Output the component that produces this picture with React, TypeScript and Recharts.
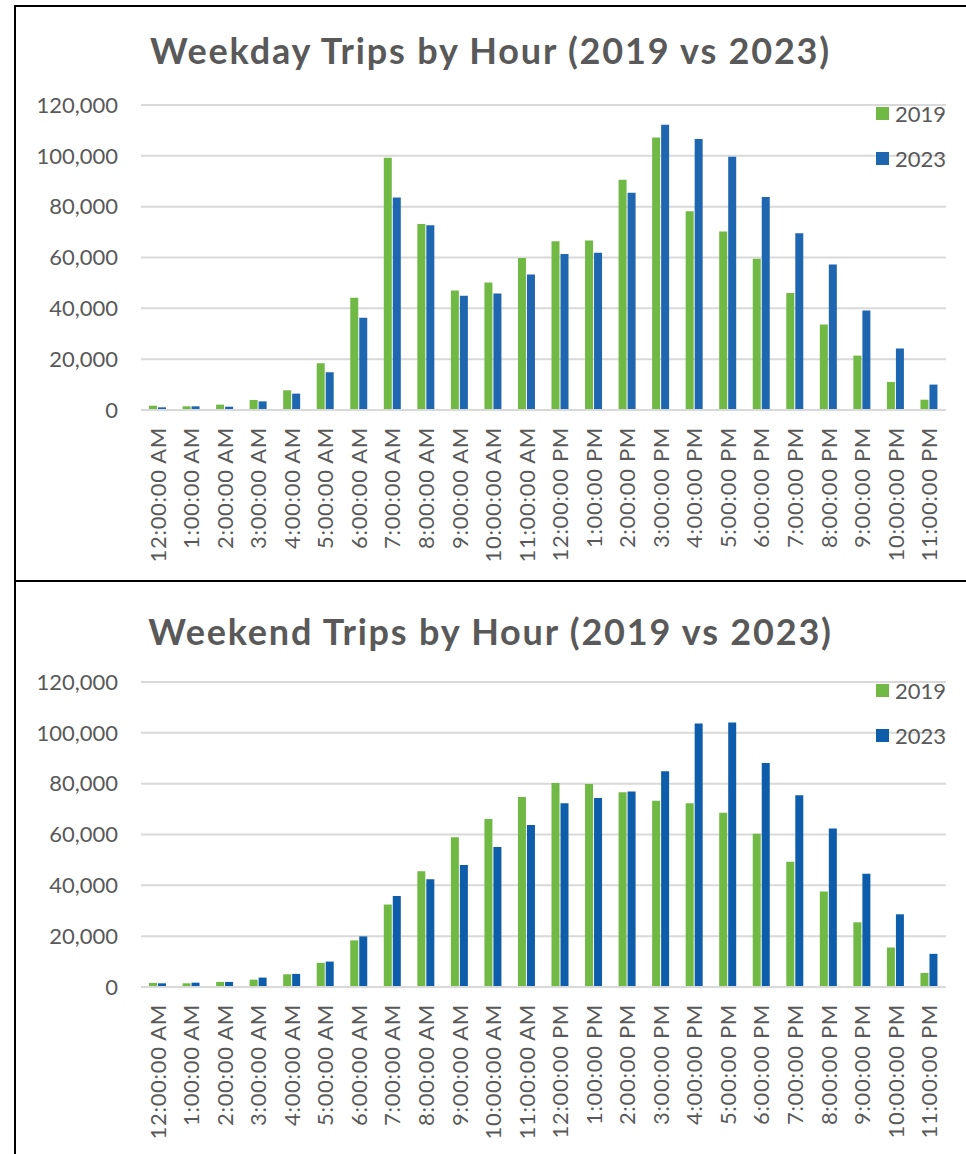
import React from 'react';
import { Bar, BarChart, CartesianGrid, Legend, XAxis, YAxis } from 'recharts';

// hourly trip counts
const hours = [
  '12:00:00 AM', '1:00:00 AM', '2:00:00 AM', '3:00:00 AM', '4:00:00 AM', '5:00:00 AM',
  '6:00:00 AM', '7:00:00 AM', '8:00:00 AM', '9:00:00 AM', '10:00:00 AM', '11:00:00 AM',
  '12:00:00 PM', '1:00:00 PM', '2:00:00 PM', '3:00:00 PM', '4:00:00 PM', '5:00:00 PM',
  '6:00:00 PM', '7:00:00 PM', '8:00:00 PM', '9:00:00 PM', '10:00:00 PM', '11:00:00 PM',
];

const weekday2019 = [
  1700, 1450, 2100, 3950, 7750, 18400, 44150, 99250, 73200, 47050, 50200, 59800,
  66400, 66650, 90550, 107250, 78200, 70200, 59550, 46000, 33650, 21400, 11050, 4050,
];
const weekday2023 = [
  1050, 1450, 1300, 3400, 6450, 14850, 36300, 83600, 72700, 44950, 45850, 53350,
  61400, 61900, 85450, 112250, 106600, 99600, 83850, 69550, 57200, 39150, 24200, 10000,
];

const weekend2019 = [
  1600, 1450, 2000, 2900, 5000, 9500, 18350, 32450, 45500, 58950, 66050, 74750,
  80300, 79900, 76600, 73300, 72250, 68550, 60250, 49300, 37600, 25450, 15550, 5550,
];
const weekend2023 = [
  1450, 1700, 2000, 3700, 5150, 10000, 19900, 35850, 42350, 48000, 55100, 63700,
  72250, 74350, 76900, 84900, 103650, 104050, 88100, 75400, 62350, 44550, 28600, 13050,
];

const yTicks = [0, 20000, 40000, 60000, 80000, 100000, 120000];

const green = '#71B945';
const textGrey = '#595959';
const gridGrey = '#D9D9D9';
const font = 'Lato, "Open Sans", sans-serif';

const toRows = (a: number[], b: number[]) =>
  hours.map((hour, i) => ({ hour, y2019: a[i], y2023: b[i] }));

const HourTick = (props: any) => {
  const { x, y, payload } = props;
  return (
    <text
      x={x}
      y={y}
      dy="0.36em"
      textAnchor="end"
      transform={`rotate(-90, ${x}, ${y})`}
      fill={textGrey}
      fontSize={22}
      letterSpacing={0.7}
      fontFamily={font}
    >
      {payload.value}
    </text>
  );
};

const LegendBox = (props: any) => (
  <div style={{ fontFamily: font }}>
    {props.payload.map((item: any) => (
      <div key={item.value} style={{ display: 'flex', alignItems: 'center', height: 45 }}>
        <span style={{ width: 13, height: 13, background: item.color, marginRight: 6 }} />
        <span style={{ fontSize: 22, color: textGrey }}>{item.value}</span>
      </div>
    ))}
  </div>
);

interface PanelProps {
  title: string;
  data: any[];
  blue: string;
  top: number;
  height: number;
  plotTop: number;
  legendTop: number;
}

const Panel: React.FC<PanelProps> = ({ title, data, blue, top, height, plotTop, legendTop }) => (
  <div style={{ position: 'absolute', left: 0, top, width: 966, height }}>
    <div style={styles.title}>{title}</div>
    <BarChart
      width={966}
      height={height}
      data={data}
      margin={{ top: plotTop, right: 20, left: 0, bottom: 0 }}
      barSize={8}
      barGap={1}
      style={{ position: 'absolute', left: 0, top: 0 }}
    >
      <CartesianGrid vertical={false} stroke={gridGrey} strokeWidth={2} />
      <XAxis
        dataKey="hour"
        interval={0}
        height={height - plotTop - 305}
        tick={<HourTick />}
        tickLine={false}
        tickMargin={11}
        axisLine={{ stroke: gridGrey, strokeWidth: 2 }}
      />
      <YAxis
        width={141}
        domain={[0, 120000]}
        ticks={yTicks}
        tickFormatter={(v: number) => v.toLocaleString('en-US')}
        tickLine={false}
        axisLine={false}
        tickMargin={17}
        tick={{ fill: textGrey, fontSize: 22, fontFamily: font }}
      />
      <Legend
        layout="vertical"
        align="center"
        verticalAlign="middle"
        content={<LegendBox />}
        wrapperStyle={{ left: 876, top: legendTop, width: 'auto' }}
      />
      <Bar dataKey="y2019" name="2019" fill={green} isAnimationActive={false} />
      <Bar dataKey="y2023" name="2023" fill={blue} isAnimationActive={false} />
    </BarChart>
  </div>
);

export default function App() {
  return (
    <div style={styles.page}>
      <Panel
        title="Weekday Trips by Hour (2019 vs 2023)"
        data={toRows(weekday2019, weekday2023)}
        blue="#1F66B0"
        top={0}
        height={580}
        plotTop={105}
        legendTop={91}
      />
      <Panel
        title="Weekend Trips by Hour (2019 vs 2023)"
        data={toRows(weekend2019, weekend2023)}
        blue="#0D5DAA"
        top={581}
        height={573}
        plotTop={101}
        legendTop={87}
      />
      <div style={{ ...styles.rule, left: 14, top: 5, width: 952, height: 2 }} />
      <div style={{ ...styles.rule, left: 14, top: 580, width: 952, height: 2 }} />
      <div style={{ ...styles.rule, left: 14, top: 5, width: 2, height: 1149 }} />
    </div>
  );
}

const styles: { [k: string]: React.CSSProperties } = {
  page: {
    position: 'absolute',
    left: 0,
    top: 0,
    width: 966,
    height: 1154,
    background: '#fff',
    overflow: 'hidden',
  },
  title: {
    position: 'absolute',
    left: 15,
    width: 951,
    top: 28,
    textAlign: 'center',
    fontFamily: font,
    fontWeight: 700,
    fontSize: 36,
    letterSpacing: 1.8,
    color: textGrey,
    zIndex: 1,
  },
  rule: {
    position: 'absolute',
    background: '#000',
  },
};
